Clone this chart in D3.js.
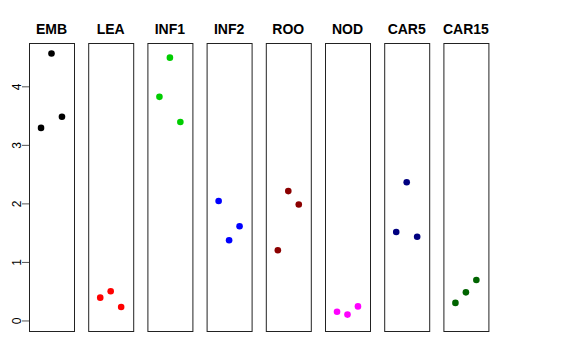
<!DOCTYPE html>
<html>
<head>
<meta charset="utf-8">
<script src="https://cdn.jsdelivr.net/npm/d3@7"></script>
<style>
  body { margin: 0; background: #fff; }
  text { font-family: "Liberation Sans", Arial, sans-serif; }
</style>
</head>
<body>
<div id="chart"></div>
<script>
var width = 576;
var height = 360;

// groups, in panel order
var groups = ["EMB", "LEA", "INF1", "INF2", "ROO", "NOD", "CAR5", "CAR15"];
var colors = ["#000000", "#ff0000", "#00cd00", "#0000ff", "#8b0000", "#ff00ff", "#000080", "#006400"];

// jittered x slot of each point inside a panel (left, middle, right)
var slots = [-1, 0, 1];

// values per group, in slot order
var EMB = [3.29, 4.56, 3.48];
var LEA = [0.39, 0.50, 0.23];
var INF1 = [3.82, 4.49, 3.39];
var INF2 = [2.04, 1.37, 1.61];
var ROO = [1.20, 2.21, 1.98];
var NOD = [0.15, 0.10, 0.24];
var CAR5 = [1.51, 2.36, 1.43];
var CAR15 = [0.30, 0.48, 0.69];
var values = [EMB, LEA, INF1, INF2, ROO, NOD, CAR5, CAR15];

var yTicks = [0, 1, 2, 3, 4];

var top_y = 43;
var bottom_y = 331;
var panel_left = 29;
var panel_w = 45;
var panel_step = 59.2;

var svg = d3.select("#chart").append("svg")
	.attr("width", width)
	.attr("height", height);

// shared y scale
var y = d3.scaleLinear()
	.domain([-0.18, 4.74])
	.range([bottom_y, top_y]);

// panel placement
var px = d3.scaleLinear()
	.domain([0, 1])
	.range([panel_left, panel_left + panel_step]);

// x within a panel
var x = d3.scaleLinear()
	.domain([-2.15, 2.15])
	.range([0, panel_w]);

// y axis on the left
var yAxis = d3.axisLeft(y)
	.tickValues(yTicks)
	.tickSize(7)
	.tickPadding(0)
	.tickFormat(d3.format("d"));

var ag = svg.append("g")
	.attr("transform", "translate(" + panel_left + ",0)")
	.call(yAxis);
ag.select(".domain").remove();
ag.selectAll(".tick line").attr("stroke", "#555");
ag.selectAll(".tick text")
	.attr("transform", "translate(-12,0) rotate(-90)")
	.attr("x", 0)
	.attr("dy", "0.35em")
	.attr("text-anchor", "middle")
	.attr("font-size", 12)
	.attr("fill", "#000");

groups.forEach(function(name, i) {
	var g = svg.append("g")
		.attr("transform", "translate(" + px(i) + ",0)");

	g.append("rect")
		.attr("x", 0.5)
		.attr("y", top_y + 0.5)
		.attr("width", panel_w)
		.attr("height", bottom_y - top_y)
		.attr("fill", "none")
		.attr("stroke", "#222")
		.attr("stroke-width", 1);

	g.append("text")
		.attr("x", panel_w / 2)
		.attr("y", 34)
		.attr("text-anchor", "middle")
		.attr("font-size", 14)
		.attr("font-weight", "bold")
		.text(name);

	g.selectAll(".dot").data(d3.zip(slots, values[i])).enter()
		.append("circle")
		.attr("class", "dot")
		.attr("cx", function(d) { return x(d[0]); })
		.attr("cy", function(d) { return y(d[1]); })
		.attr("r", 3.3)
		.attr("fill", colors[i]);
});
</script>
</body>
</html>
